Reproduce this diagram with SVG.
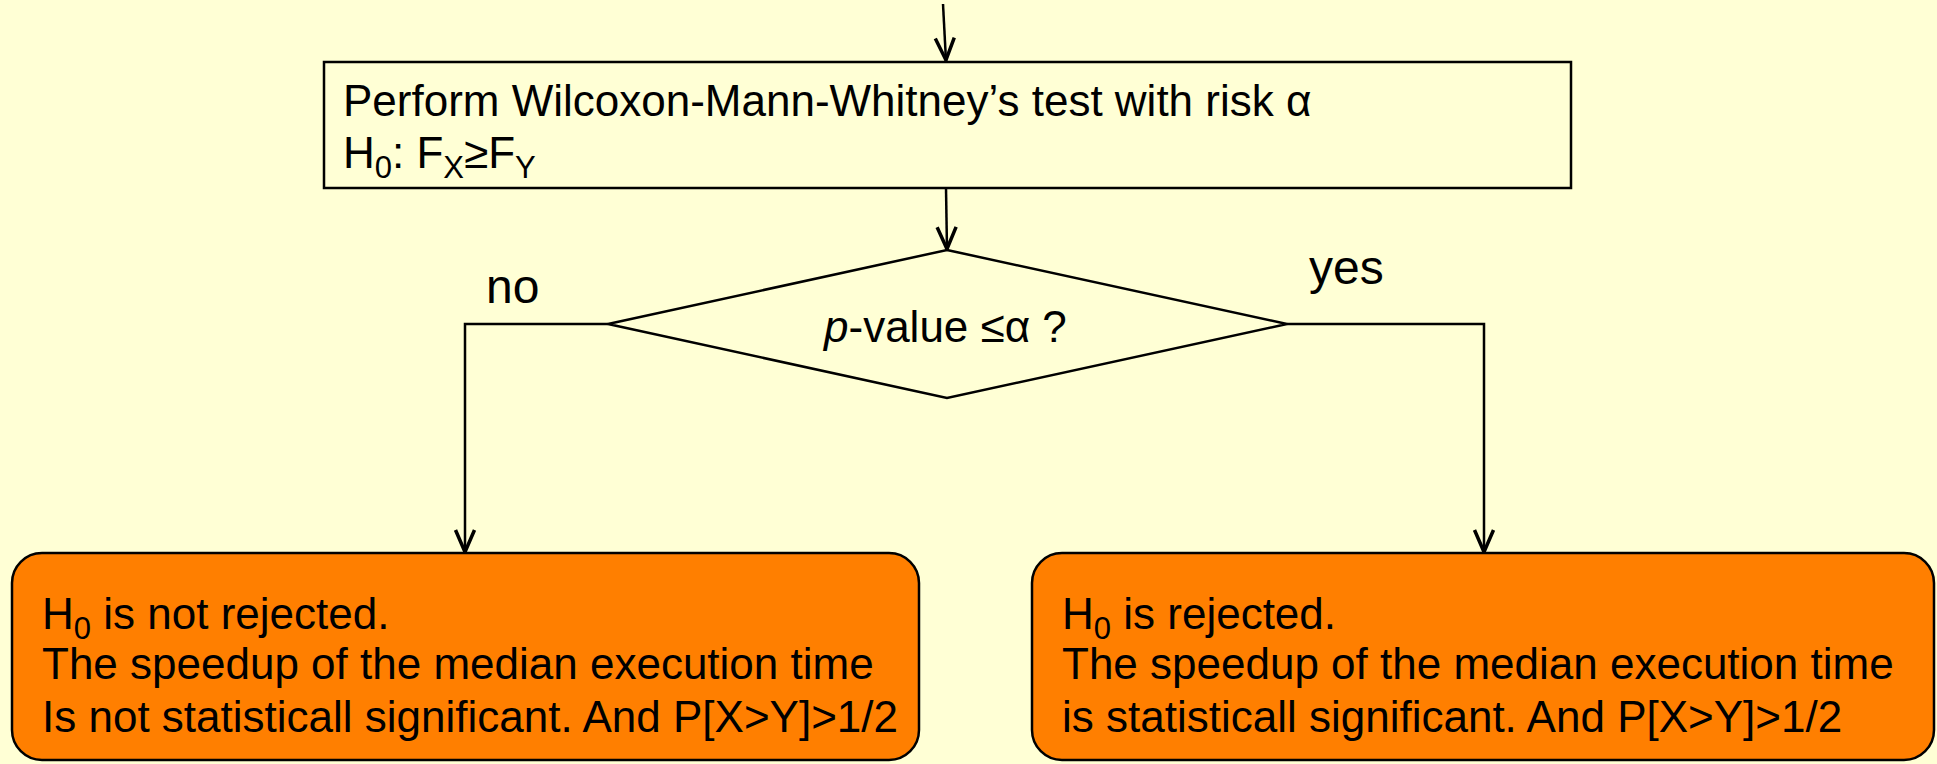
<svg xmlns="http://www.w3.org/2000/svg" width="1937" height="764" viewBox="0 0 1937 764">
  <defs>
    <marker id="arr" markerWidth="28" markerHeight="26" viewBox="-26 -13 28 26" refX="0" refY="0" orient="auto" markerUnits="userSpaceOnUse">
      <path d="M -23 -9.5 L -1 0 L -23 9.5" fill="none" stroke="#000" stroke-width="3.5" stroke-linejoin="miter"/>
    </marker>
    <style>
      text { font-family: "Liberation Sans", Arial, sans-serif; font-size: 44px; fill: #000; }
      .lbl { font-size: 48px; }
      .sub { font-size: 31px; }
      .conn { fill: none; stroke: #000; stroke-width: 2.5; }
      .box { fill: #FFFFD5; stroke: #000; stroke-width: 2.5; }
      .res { fill: #FF7F00; stroke: #000; stroke-width: 2.5; }
    </style>
  </defs>
  <rect x="0" y="0" width="1937" height="764" fill="#FFFFD5"/>

  <g id="connectors">
    <line class="conn" x1="943" y1="4" x2="946" y2="61" marker-end="url(#arr)"/>
    <line class="conn" x1="946" y1="188" x2="947" y2="250" marker-end="url(#arr)"/>
    <polyline class="conn" points="608,324 465,324 465,553" marker-end="url(#arr)"/>
    <polyline class="conn" points="1287,324 1484,324 1484,553" marker-end="url(#arr)"/>
  </g>

  <g id="test">
    <rect class="box" x="324" y="62" width="1247" height="126"/>
    <text x="343" y="116">Perform Wilcoxon-Mann-Whitney’s test with risk α</text>
    <text x="343" y="168">H<tspan class="sub" dy="10">0</tspan><tspan dy="-10">: F</tspan><tspan class="sub" dy="10">X</tspan><tspan dy="-10">≥F</tspan><tspan class="sub" dy="10">Y</tspan></text>
  </g>

  <g id="decision">
    <polygon class="box" points="947,250 1287,324 947,398 608,324"/>
    <text x="824" y="342"><tspan font-style="italic">p</tspan>-value ≤α ?</text>
  </g>

  <g id="label-no">
    <text class="lbl" x="486" y="303">no</text>
  </g>
  <g id="label-yes">
    <text class="lbl" x="1309" y="284">yes</text>
  </g>

  <g id="not-rejected">
    <rect class="res" x="12" y="553" width="907" height="207" rx="30" ry="30"/>
    <text x="42" y="629">H<tspan class="sub" dy="10">0</tspan><tspan dy="-10"> is not rejected.</tspan></text>
    <text x="42" y="679">The speedup of the median execution time</text>
    <text x="42" y="732">Is not statisticall significant. And P[X&gt;Y]&gt;1/2</text>
  </g>

  <g id="rejected">
    <rect class="res" x="1032" y="553" width="902" height="207" rx="30" ry="30"/>
    <text x="1062" y="629">H<tspan class="sub" dy="10">0</tspan><tspan dy="-10"> is rejected.</tspan></text>
    <text x="1062" y="679">The speedup of the median execution time</text>
    <text x="1062" y="732">is statisticall significant. And P[X&gt;Y]&gt;1/2</text>
  </g>
</svg>
